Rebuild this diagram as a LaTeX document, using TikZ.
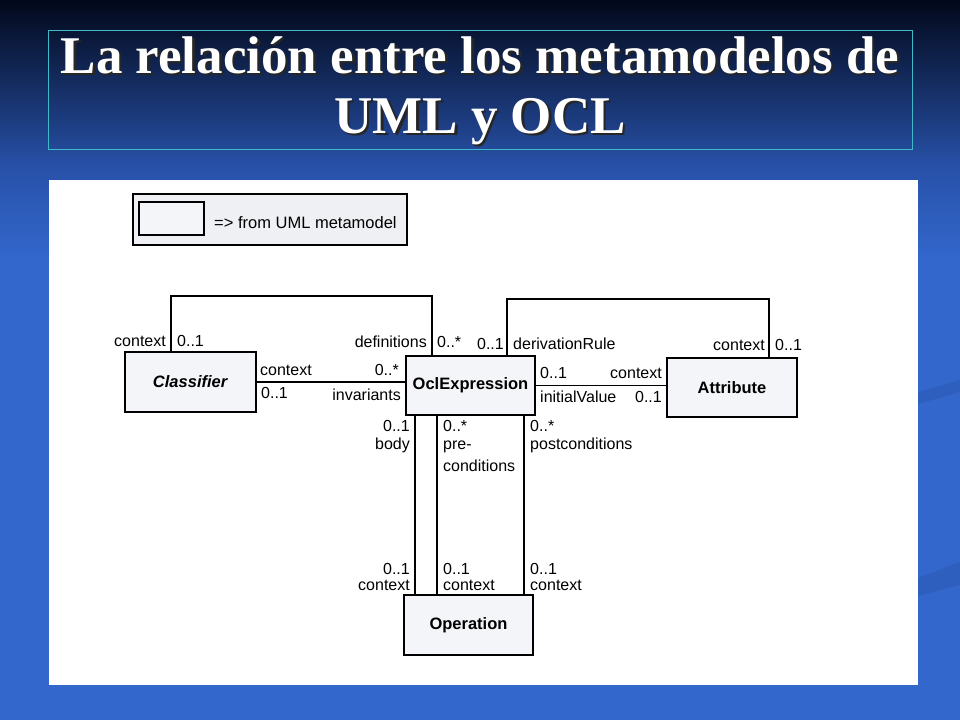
\documentclass[tikz,border=0pt]{standalone}
\usepackage{fontspec}
\setmainfont{Liberation Sans}
\newfontfamily\titlefont{Liberation Serif}
\definecolor{bgtop}{RGB}{2,8,26}
\definecolor{bgmid}{RGB}{40,82,170}
\definecolor{bgblue}{RGB}{51,103,204}
\definecolor{bgband}{RGB}{46,95,190}
\definecolor{tframe}{RGB}{64,186,200}
\definecolor{boxfill}{RGB}{243,245,248}
\definecolor{legfill}{RGB}{238,240,243}
\newcommand{\shadowed}[1]{\rlap{\hspace{2.5pt}\raisebox{-2.5pt}{\color{black!85}#1}}#1}
\tikzset{
  umlbox/.style={draw=black, line width=1.6pt, fill=boxfill, inner sep=0pt, font=\fontsize{16.5}{18}\selectfont\bfseries},
  lbl/.style={inner sep=0pt, font=\fontsize{16}{18}\selectfont},
  conn/.style={line width=1.4pt, draw=black},
  ttl/.style={inner sep=0pt, text=white, font=\titlefont\fontsize{53}{59}\selectfont\bfseries}
}
\begin{document}
\begin{tikzpicture}[x=1pt,y=-1pt]
\useasboundingbox (0,0) rectangle (960,720);
% background
\fill[bgblue] (0,0) rectangle (960,720);
\shade[top color=bgtop, bottom color=bgmid] (0,0) rectangle (960,170);
\shade[top color=bgmid, bottom color=bgblue] (0,170) rectangle (960,260);
\fill[bgband] (918,392) -- (960,380) -- (960,392) -- (918,404) -- cycle;
\fill[bgband] (918,578) -- (960,562) -- (960,585) -- (918,596) -- cycle;
% title
\draw[tframe, line width=0.9pt] (48,30) rectangle (912,149);
\node[ttl, anchor=base] (t1) at (480,73) {\shadowed{La relación entre los metamodelos de}};
\node[ttl, anchor=base] (t2) at (480,133) {\shadowed{UML y OCL}};
% panel
\fill[white] (49,180) rectangle (918,685);
% legend
\draw[line width=1.5pt, fill=legfill] (133,194) rectangle (407,245);
\draw[line width=1.8pt, fill=boxfill] (139,202) rectangle (204,235);
\node[lbl, anchor=base west, font=\fontsize{16.5}{18}\selectfont] (leg) at (214,228) {=> from UML metamodel};
% boxes
\node[umlbox, minimum width=131pt, minimum height=60pt] (cls) at (190.5,382) {\textit{Classifier}};
\node[umlbox, minimum width=129pt, minimum height=59pt] (ocl) at (470.5,385.5) {OclExpression};
\node[umlbox, minimum width=130pt, minimum height=59pt] (attr) at (732,387.5) {Attribute};
\node[umlbox, minimum width=129pt, minimum height=60pt] (op) at (468.5,625) {Operation};
% loop coordinates
\coordinate (la) at (171,296);
\coordinate (lb) at (432,296);
\coordinate (lc) at (507,299);
\coordinate (ld) at (769,299);
\coordinate (va) at (415,0);
\coordinate (vb) at (437,0);
\coordinate (vc) at (524,0);
% connectors
\draw[conn] (cls.north -| la) -- (la) -- (lb) -- (ocl.north -| lb);
\draw[conn] (ocl.north -| lc) -- (lc) -- (ld) -- (attr.north -| ld);
\draw[conn] (cls.east) -- (cls.east -| ocl.west);
\draw[conn] (ocl.east) -- (ocl.east -| attr.west);
\draw[conn] (ocl.south -| va) -- (op.north -| va);
\draw[conn] (ocl.south -| vb) -- (op.north -| vb);
\draw[conn] (ocl.south -| vc) -- (op.north -| vc);
% labels
\node[lbl, anchor=base east] (l1) at (166,346) {context};
\node[lbl, anchor=base west] (l2) at (177,346) {0..1};
\node[lbl, anchor=base east] (l3) at (427,347) {definitions};
\node[lbl, anchor=base west] (l4) at (437,347) {0..*};
\node[lbl, anchor=base east] (l5) at (504,349) {0..1};
\node[lbl, anchor=base west] (l6) at (513,349) {derivationRule};
\node[lbl, anchor=base east] (l7) at (765,350) {context};
\node[lbl, anchor=base west] (l8) at (775,350) {0..1};
\node[lbl, anchor=base west] (l9) at (260,375) {context};
\node[lbl, anchor=base west] (l10) at (261,398) {0..1};
\node[lbl, anchor=base east] (l11) at (399,375) {0..*};
\node[lbl, anchor=base east] (l12) at (401,400) {invariants};
\node[lbl, anchor=base west] (l13) at (540,378) {0..1};
\node[lbl, anchor=base east] (l14) at (662,378) {context};
\node[lbl, anchor=base west] (l15) at (540,402) {initialValue};
\node[lbl, anchor=base east] (l16) at (662,402) {0..1};
\node[lbl, anchor=base east] (l17) at (410,431) {0..1};
\node[lbl, anchor=base east] (l18) at (410,449) {body};
\node[lbl, anchor=base west] (l19) at (443,431) {0..*};
\node[lbl, anchor=base west] (l20) at (443,449) {pre-};
\node[lbl, anchor=base west] (l21) at (443,471) {conditions};
\node[lbl, anchor=base west] (l22) at (530,431) {0..*};
\node[lbl, anchor=base west] (l23) at (530,449) {postconditions};
\node[lbl, anchor=base east] (l24) at (410,574) {0..1};
\node[lbl, anchor=base east] (l25) at (410,590) {context};
\node[lbl, anchor=base west] (l26) at (443,574) {0..1};
\node[lbl, anchor=base west] (l27) at (443,590) {context};
\node[lbl, anchor=base west] (l28) at (530,574) {0..1};
\node[lbl, anchor=base west] (l29) at (530,590) {context};
\end{tikzpicture}
\end{document}
